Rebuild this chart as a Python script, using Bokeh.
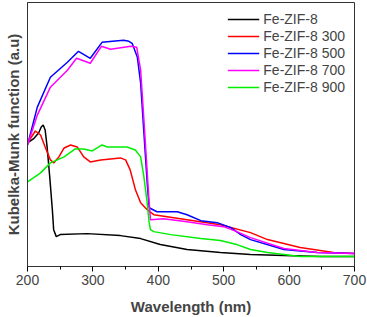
from bokeh.plotting import figure
from bokeh.embed import file_html
from bokeh.resources import INLINE
from bokeh.models import Legend, LegendItem, FixedTicker, GlobalInlineStyleSheet

# ---- data (arbitrary units) ----
series_names = ["Fe-ZIF-8", "Fe-ZIF-8 300", "Fe-ZIF-8 500", "Fe-ZIF-8 700", "Fe-ZIF-8 900"]
series_colors = ["#000000", "#ff0000", "#0000ff", "#ff00ff", "#00ee00"]

wl_0 = [200, 209, 217, 221, 224, 227, 230, 234, 238, 240, 244, 250, 291, 342, 373, 403, 444, 495, 541, 592, 650, 700]
km_0 = [124, 128, 134, 140, 142, 137, 120, 90, 57, 37, 30, 32, 33, 31, 28, 22, 17, 14, 12, 11, 10, 10]

wl_300 = [200, 212, 220, 227, 235, 240, 248, 256, 266, 276, 286, 296, 312, 342, 350, 357, 365, 373, 383, 393, 444, 495, 541, 567, 617, 668, 700]
km_300 = [124, 136, 132, 120, 107, 104, 110, 119, 122, 120, 110, 105, 107, 109, 107, 97, 77, 64, 57, 52, 47, 42, 34, 27, 19, 14, 13]

wl_500 = [200, 215, 235, 261, 278, 296, 314, 330, 347, 355, 360, 368, 373, 378, 383, 386, 398, 429, 444, 465, 490, 511, 526, 541, 592, 643, 700]
km_500 = [122, 160, 190, 205, 216, 209, 225, 226, 227, 226, 224, 210, 184, 134, 84, 59, 55, 55, 52, 46, 44, 39, 32, 27, 17, 14, 13]

wl_700 = [200, 215, 235, 261, 275, 296, 313, 327, 358, 367, 373, 378, 385, 388, 408, 444, 475, 500, 520, 541, 592, 643, 700]
km_700 = [122, 152, 180, 197, 209, 204, 221, 218, 221, 220, 197, 147, 74, 47, 48, 45, 42, 40, 35, 29, 18, 14, 13]

wl_900 = [200, 209, 220, 235, 256, 273, 286, 299, 314, 322, 352, 365, 373, 378, 383, 386, 388, 393, 419, 465, 495, 520, 541, 567, 617, 700]
km_900 = [85, 89, 94, 104, 110, 118, 118, 116, 122, 120, 120, 117, 110, 90, 64, 44, 37, 35, 32, 28, 26, 22, 17, 14, 10, 10]

x_ticks = [200, 300, 400, 500, 600, 700]

wls = [wl_0, wl_300, wl_500, wl_700, wl_900]
kms = [km_0, km_300, km_500, km_700, km_900]

FONT = "Liberation Sans"

p = figure(width=367, height=317, output_backend="svg", toolbar_location=None,
           x_range=(200, 700), y_range=(0, 265),
           min_border_left=27, min_border_right=13, min_border_top=2, min_border_bottom=50)
p.stylesheets = [GlobalInlineStyleSheet(css="body{margin:0 !important;}")]
p.background_fill_color = "white"
p.border_fill_color = "white"
p.outline_line_color = "#333333"
p.outline_line_width = 1
p.xgrid.visible = False
p.ygrid.visible = False

items = []
for name, col, wl, km in zip(series_names, series_colors, wls, kms):
    r = p.line(wl, km, line_color=col, line_width=1.5)
    items.append(LegendItem(label=name, renderers=[r]))

legend = Legend(items=items, location="top_right", border_line_color=None,
                background_fill_alpha=0, margin=9, padding=8, spacing=1,
                glyph_width=32, glyph_height=16, label_height=16, label_standoff=4,
                label_text_font=FONT, label_text_font_size="14px")
p.add_layout(legend, "center")

xa = p.xaxis[0]
xa.ticker = FixedTicker(ticks=x_ticks, minor_ticks=[250, 350, 450, 550, 650])
xa.major_tick_in = 0
xa.major_tick_out = 5
xa.minor_tick_in = 0
xa.minor_tick_out = 3
xa.major_label_text_font = FONT
xa.major_label_text_font_size = "14px"
xa.major_label_standoff = 3
xa.axis_label = "Wavelength (nm)"
xa.axis_label_text_font = FONT
xa.axis_label_text_font_style = "bold"
xa.axis_label_text_font_size = "15px"
xa.axis_label_standoff = 10
xa.axis_line_color = "#333333"

ya = p.yaxis[0]
ya.ticker = FixedTicker(ticks=[])
ya.major_tick_out = 0
ya.major_tick_in = 0
ya.minor_tick_out = 0
ya.minor_tick_in = 0
ya.axis_label = "Kubelka-Munk function (a.u)"
ya.axis_label_text_font = FONT
ya.axis_label_text_font_style = "bold"
ya.axis_label_text_font_size = "15px"
ya.axis_label_standoff = 6
ya.axis_line_color = "#333333"

open("out.html", "w").write(file_html(p, INLINE))
